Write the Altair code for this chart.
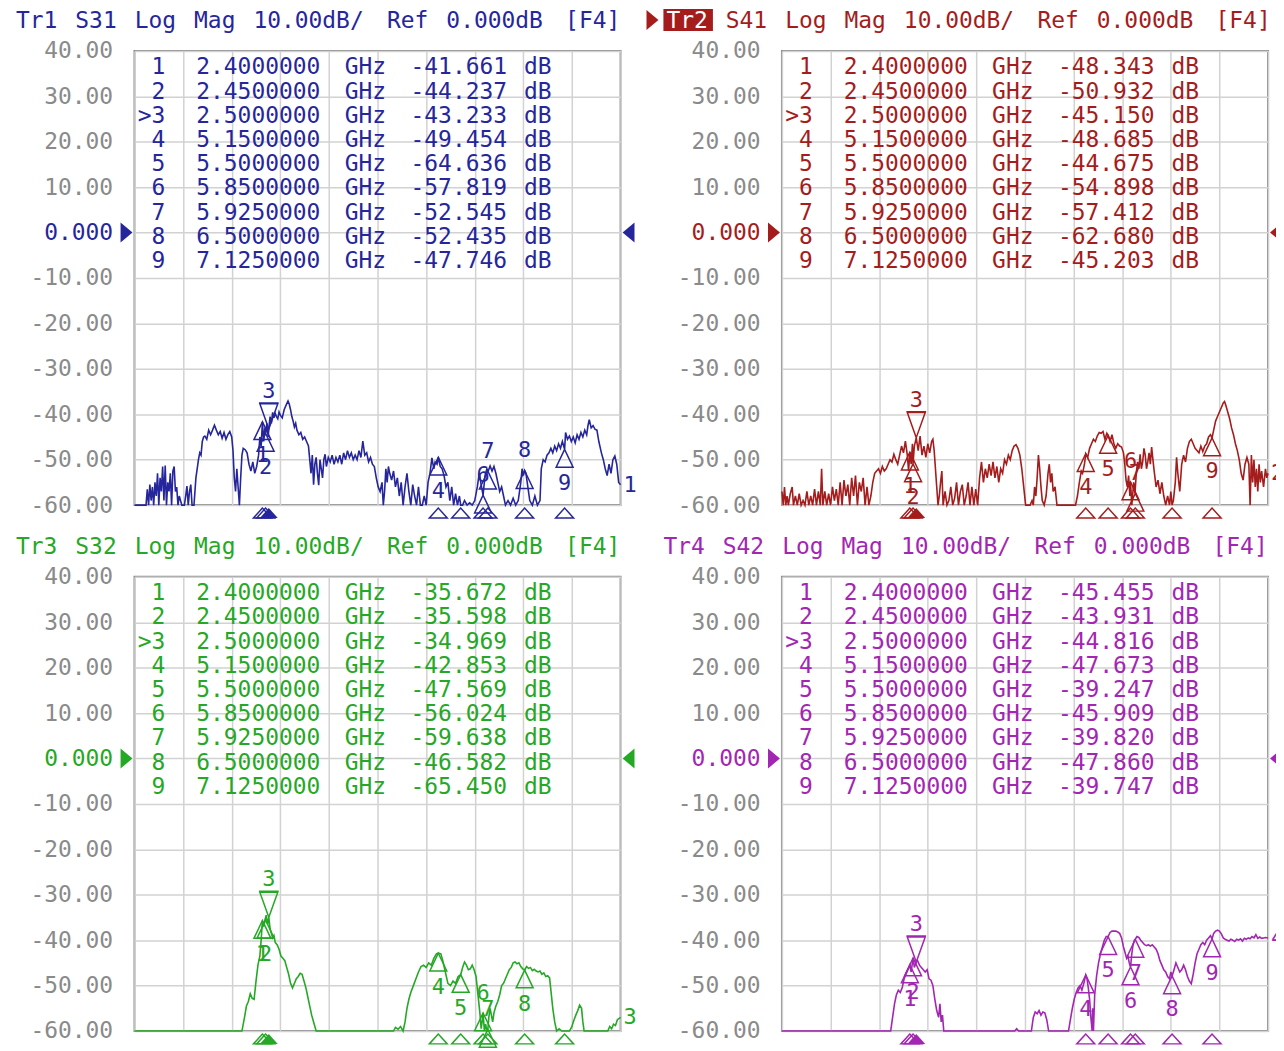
import altair as alt
import pandas as pd

# ---------------- data ----------------
MARKER_NUMS = ["1", "2", "3", "4", "5", "6", "7", "8", "9"]
MARKER_FREQS = [2.4, 2.45, 2.5, 5.15, 5.5, 5.85, 5.925, 6.5, 7.125]
ACTIVE_MARKER = "3"

TITLES = [
    "Tr1 S31 Log Mag 10.00dB/ Ref 0.000dB [F4]",
    "Tr2 S41 Log Mag 10.00dB/ Ref 0.000dB [F4]",
    "Tr3 S32 Log Mag 10.00dB/ Ref 0.000dB [F4]",
    "Tr4 S42 Log Mag 10.00dB/ Ref 0.000dB [F4]",
]
COLORS = ["#26269c", "#a51c1c", "#25a825", "#a326b2"]

MARKERS_S31 = [-41.661, -44.237, -43.233, -49.454, -64.636, -57.819, -52.545, -52.435, -47.746]
MARKERS_S41 = [-48.343, -50.932, -45.150, -48.685, -44.675, -54.898, -57.412, -62.680, -45.203]
MARKERS_S32 = [-35.672, -35.598, -34.969, -42.853, -47.569, -56.024, -59.638, -46.582, -65.450]
MARKERS_S42 = [-45.455, -43.931, -44.816, -47.673, -39.247, -45.909, -39.820, -47.860, -39.747]

TRACE_S31 = [
    (0.40, -60), (0.50, -60), (0.58, -60), (0.60, -56.5), (0.62, -60), (0.64, -55.5), (0.66, -59),
    (0.68, -56), (0.70, -60), (0.72, -55), (0.74, -58), (0.76, -53), (0.78, -60), (0.80, -54),
    (0.82, -57), (0.84, -51.5), (0.86, -59), (0.88, -51.3), (0.90, -60), (0.92, -55), (0.94, -57),
    (0.96, -53), (0.98, -60), (1.00, -52.5), (1.02, -51.5), (1.04, -57), (1.06, -56), (1.08, -60),
    (1.10, -58), (1.14, -60), (1.18, -60), (1.20, -58), (1.22, -55.8), (1.24, -60), (1.26, -57),
    (1.28, -55.5), (1.30, -60), (1.33, -60), (1.36, -54), (1.38, -52), (1.40, -50), (1.42, -48.5),
    (1.44, -49), (1.46, -46), (1.48, -45), (1.50, -44.8), (1.53, -45.5), (1.56, -43.5), (1.59, -44.5),
    (1.62, -43.5), (1.65, -42.4), (1.68, -43.5), (1.71, -44.5), (1.74, -43.8), (1.77, -45.3),
    (1.80, -44), (1.83, -45.5), (1.86, -44.5), (1.89, -43.8), (1.92, -45), (1.94, -48), (1.96, -54),
    (1.98, -57), (2.00, -52), (2.02, -56), (2.04, -60), (2.06, -54), (2.08, -49), (2.10, -47.5),
    (2.13, -47.8), (2.16, -48.5), (2.19, -51), (2.22, -52.5), (2.25, -50.5), (2.28, -53),
    (2.31, -51.5), (2.34, -49), (2.36, -45), (2.38, -47), (2.40, -41.7), (2.42, -46), (2.44, -43),
    (2.45, -44.2), (2.47, -42), (2.49, -45), (2.50, -43.2), (2.52, -40.5), (2.54, -42),
    (2.56, -39.6), (2.58, -40.8), (2.60, -39.8), (2.62, -40.5), (2.64, -41), (2.66, -39.5),
    (2.68, -40.2), (2.71, -40.8), (2.74, -39), (2.77, -38), (2.80, -37.1), (2.82, -37.8),
    (2.84, -39), (2.86, -40.5), (2.88, -41.5), (2.90, -42.8), (2.92, -42), (2.94, -43.5),
    (2.97, -44.5), (3.00, -44), (3.03, -45.5), (3.06, -45), (3.09, -46), (3.12, -47), (3.14, -50),
    (3.16, -53), (3.18, -49), (3.20, -55.5), (3.22, -51), (3.24, -49.5), (3.26, -53), (3.28, -55.6),
    (3.30, -50), (3.32, -52), (3.34, -54), (3.36, -50), (3.38, -48.8), (3.40, -51.5), (3.43, -49.5),
    (3.46, -50.5), (3.49, -49), (3.52, -51), (3.55, -49.5), (3.58, -50.5), (3.61, -49), (3.64, -51),
    (3.67, -48.5), (3.70, -50), (3.73, -48), (3.76, -49.5), (3.79, -48.5), (3.82, -50), (3.85, -49),
    (3.88, -50), (3.91, -48), (3.94, -49.5), (3.97, -45.9), (4.00, -49), (4.03, -48.5),
    (4.06, -50.5), (4.09, -49.5), (4.12, -51), (4.15, -51.5), (4.18, -54), (4.21, -56), (4.24, -57),
    (4.27, -55), (4.29, -60), (4.31, -57), (4.33, -52), (4.35, -55), (4.37, -51.5), (4.39, -53),
    (4.42, -54.5), (4.45, -52.5), (4.48, -56), (4.51, -54), (4.54, -58), (4.57, -55), (4.60, -60),
    (4.63, -56), (4.66, -53), (4.69, -57), (4.72, -60), (4.75, -55.5), (4.78, -58), (4.81, -60),
    (4.84, -56), (4.87, -60), (4.90, -60), (4.93, -58), (4.96, -60), (4.99, -55), (5.02, -53),
    (5.05, -49.6), (5.08, -52), (5.10, -50.5), (5.13, -51), (5.15, -49.5), (5.18, -51.5),
    (5.21, -52), (5.24, -53.5), (5.27, -56), (5.30, -55), (5.33, -59), (5.36, -56), (5.39, -60),
    (5.42, -57.5), (5.45, -60), (5.48, -58), (5.50, -60), (5.53, -60), (5.56, -59), (5.60, -60),
    (5.64, -59.5), (5.68, -60), (5.72, -59), (5.76, -56), (5.79, -53), (5.82, -55.5), (5.85, -57.8),
    (5.88, -53.5), (5.91, -52), (5.93, -52.5), (5.96, -51.4), (5.99, -52.5), (6.02, -51.5),
    (6.05, -53), (6.08, -55), (6.11, -57), (6.14, -56), (6.17, -58), (6.20, -60), (6.24, -59),
    (6.28, -60), (6.32, -58.5), (6.36, -60), (6.40, -59), (6.44, -55), (6.46, -52), (6.48, -53.5),
    (6.50, -52.4), (6.52, -53), (6.55, -56), (6.58, -59), (6.62, -60), (6.66, -58), (6.70, -60),
    (6.74, -59), (6.76, -52), (6.79, -50), (6.82, -50.5), (6.85, -49), (6.88, -48.5), (6.91, -47.5),
    (6.94, -48.5), (6.97, -47), (7.00, -48), (7.03, -46.5), (7.06, -47.5), (7.09, -46),
    (7.125, -47.7), (7.14, -44), (7.17, -45.5), (7.20, -44.8), (7.23, -46), (7.26, -45),
    (7.29, -46.3), (7.32, -44.5), (7.35, -45.5), (7.38, -44), (7.41, -45), (7.44, -43.5),
    (7.47, -44.5), (7.49, -42.5), (7.51, -41.2), (7.54, -43), (7.57, -42.5), (7.60, -43.3),
    (7.63, -43.5), (7.66, -46), (7.70, -48.5), (7.73, -50), (7.76, -52), (7.79, -53.5), (7.82, -51),
    (7.85, -53), (7.88, -50), (7.91, -49.2), (7.94, -51), (7.97, -55), (8.00, -55.5),
]

TRACE_S41 = [
    (0.40, -57), (0.42, -60), (0.44, -56), (0.46, -60), (0.48, -58), (0.50, -60), (0.53, -57.5),
    (0.56, -56), (0.58, -60), (0.61, -58), (0.64, -60), (0.67, -57.5), (0.70, -60), (0.73, -59),
    (0.76, -60), (0.79, -57), (0.82, -60), (0.85, -58), (0.88, -60), (0.91, -56.5), (0.94, -60),
    (0.97, -57), (1.00, -60), (1.02, -52), (1.04, -60), (1.07, -57), (1.10, -60), (1.13, -57.5),
    (1.16, -60), (1.19, -56), (1.22, -59), (1.25, -56.5), (1.28, -60), (1.31, -55), (1.34, -60),
    (1.37, -54.5), (1.40, -58), (1.43, -55.5), (1.46, -60), (1.49, -54), (1.52, -58), (1.55, -53.5),
    (1.58, -60), (1.61, -55), (1.64, -57), (1.67, -54), (1.70, -60), (1.73, -56), (1.76, -60),
    (1.79, -58), (1.82, -55), (1.85, -53), (1.88, -52.5), (1.91, -52), (1.94, -53), (1.97, -51.5),
    (2.00, -52.5), (2.03, -52), (2.06, -51), (2.09, -50), (2.12, -50.5), (2.15, -48.8), (2.18, -50),
    (2.21, -51), (2.24, -49), (2.27, -47), (2.30, -48.5), (2.33, -45.9), (2.36, -49), (2.38, -52.5),
    (2.40, -48.3), (2.42, -51), (2.44, -46.5), (2.45, -50.9), (2.47, -47), (2.50, -45.2),
    (2.53, -48), (2.56, -44.8), (2.59, -49), (2.62, -47), (2.65, -49.5), (2.68, -46.5),
    (2.71, -48.5), (2.74, -46), (2.76, -45.5), (2.78, -48), (2.80, -52), (2.82, -56), (2.84, -60),
    (2.86, -58), (2.88, -55), (2.90, -52.5), (2.92, -60), (2.95, -57), (2.98, -60), (3.01, -59),
    (3.04, -56), (3.07, -60), (3.10, -58.5), (3.13, -55), (3.16, -60), (3.19, -57), (3.22, -55.5),
    (3.25, -60), (3.28, -58), (3.31, -55), (3.34, -60), (3.37, -56), (3.40, -60), (3.43, -56.5),
    (3.46, -60), (3.49, -54), (3.52, -50.5), (3.55, -55), (3.58, -52), (3.61, -54), (3.64, -51),
    (3.67, -53.5), (3.70, -50.5), (3.73, -54), (3.76, -51.5), (3.79, -55), (3.82, -52), (3.85, -53),
    (3.88, -50), (3.91, -51), (3.94, -49), (3.97, -50), (4.00, -48), (4.03, -47), (4.06, -46.7),
    (4.09, -47.5), (4.12, -49), (4.15, -52), (4.18, -56), (4.21, -60), (4.24, -60), (4.28, -60),
    (4.31, -59), (4.33, -60), (4.35, -56), (4.37, -58), (4.39, -54), (4.41, -49), (4.43, -52),
    (4.45, -56), (4.47, -59), (4.50, -60), (4.53, -58), (4.56, -53), (4.58, -51), (4.60, -55),
    (4.62, -53), (4.64, -57), (4.67, -56), (4.70, -60), (4.80, -60), (4.90, -60), (4.99, -60),
    (5.02, -58), (5.05, -55), (5.08, -52.5), (5.10, -53), (5.13, -51), (5.15, -48.7), (5.18, -49.5),
    (5.21, -47.5), (5.24, -46.5), (5.27, -45.5), (5.30, -46), (5.33, -44.8), (5.36, -44),
    (5.39, -44.2), (5.42, -43.8), (5.45, -45.5), (5.48, -44.2), (5.50, -44.7), (5.53, -46),
    (5.56, -44.5), (5.59, -46.5), (5.62, -47.5), (5.65, -46.5), (5.68, -47), (5.71, -47.2),
    (5.74, -48.5), (5.76, -51), (5.78, -54.5), (5.80, -56), (5.82, -53.5), (5.84, -58),
    (5.85, -54.9), (5.87, -60), (5.90, -55), (5.92, -57.4), (5.94, -53), (5.96, -50.5), (5.98, -52),
    (6.00, -48.8), (6.02, -52), (6.04, -50.5), (6.06, -47.5), (6.08, -49), (6.10, -52),
    (6.12, -50.5), (6.14, -48.5), (6.16, -51), (6.18, -47.2), (6.20, -50), (6.22, -52.5),
    (6.25, -56), (6.28, -54.5), (6.31, -57.5), (6.34, -55), (6.37, -58), (6.40, -60), (6.43, -58),
    (6.46, -60), (6.48, -57), (6.50, -60), (6.52, -59), (6.55, -55), (6.57, -49.5), (6.59, -53),
    (6.62, -57), (6.65, -51), (6.68, -49), (6.71, -50.5), (6.74, -47.5), (6.77, -46), (6.80, -45.5),
    (6.83, -46.5), (6.86, -47.5), (6.89, -48), (6.92, -48.5), (6.95, -47), (6.98, -48.2), (7.01, -47),
    (7.04, -46.5), (7.07, -45), (7.10, -44.5), (7.125, -45.2), (7.15, -43.5), (7.18, -41.5),
    (7.21, -40.5), (7.24, -39.5), (7.27, -38.5), (7.30, -37.5), (7.32, -37.2), (7.34, -38),
    (7.37, -39.5), (7.40, -41), (7.43, -43), (7.46, -44.5), (7.49, -46.5), (7.52, -48), (7.55, -50),
    (7.58, -53), (7.61, -54.5), (7.64, -51), (7.67, -49.5), (7.70, -51), (7.72, -60), (7.74, -49),
    (7.76, -55), (7.78, -50), (7.80, -56), (7.82, -52), (7.84, -57), (7.86, -51), (7.88, -55),
    (7.90, -52.5), (7.93, -56), (7.96, -52), (7.98, -54), (8.00, -53),
]

TRACE_S32 = [
    (0.40, -60), (2.08, -60), (2.12, -57), (2.15, -54.5), (2.18, -53.5), (2.21, -51.8),
    (2.24, -52.8), (2.27, -53), (2.30, -49), (2.33, -45.5), (2.36, -43.5), (2.38, -40),
    (2.40, -35.7), (2.42, -37), (2.44, -35.5), (2.46, -34.5), (2.48, -36.5), (2.50, -35),
    (2.52, -37.5), (2.54, -38.5), (2.56, -39.5), (2.58, -39), (2.60, -40.5), (2.63, -41),
    (2.66, -42), (2.69, -43.5), (2.72, -44), (2.75, -44.5), (2.78, -46), (2.81, -47.5),
    (2.84, -49.5), (2.87, -50.5), (2.90, -49.5), (2.93, -48.5), (2.96, -48), (2.99, -47.3),
    (3.02, -47.5), (3.05, -49), (3.08, -50.5), (3.11, -52.5), (3.14, -54.5), (3.17, -56.5),
    (3.20, -58), (3.24, -60), (4.45, -60), (4.48, -59.2), (4.52, -59.6), (4.56, -59), (4.60, -60),
    (4.63, -58), (4.66, -55), (4.69, -53), (4.72, -51.5), (4.76, -50), (4.80, -48.5), (4.84, -47),
    (4.88, -45.8), (4.92, -45.5), (4.96, -46), (5.00, -45), (5.04, -45.5), (5.08, -44), (5.12, -43),
    (5.15, -42.85), (5.19, -43), (5.22, -44.5), (5.26, -47), (5.30, -49.5), (5.34, -50),
    (5.38, -49), (5.42, -49.5), (5.46, -48), (5.50, -47.6), (5.53, -46), (5.56, -44.8),
    (5.59, -45.5), (5.62, -46.5), (5.65, -46.3), (5.68, -45.5), (5.71, -46.5), (5.74, -48),
    (5.77, -52), (5.80, -56), (5.82, -59.5), (5.84, -57.5), (5.85, -56), (5.87, -60),
    (5.89, -58.5), (5.91, -60), (5.925, -59.6), (5.94, -57), (5.96, -55), (5.98, -56.5),
    (6.00, -58), (6.02, -56), (6.05, -54.5), (6.08, -53.5), (6.11, -52), (6.14, -50),
    (6.17, -49.5), (6.20, -48.5), (6.23, -47.5), (6.26, -46.5), (6.29, -46), (6.32, -45),
    (6.35, -44.8), (6.38, -45.2), (6.41, -45), (6.44, -45.8), (6.47, -46.3), (6.50, -46.6),
    (6.53, -45.8), (6.56, -46.2), (6.59, -46), (6.62, -46.7), (6.65, -46.4), (6.68, -46.8),
    (6.71, -47), (6.74, -46.8), (6.77, -47.5), (6.80, -47.2), (6.83, -48), (6.86, -47.8),
    (6.89, -48.3), (6.91, -51), (6.94, -55), (6.97, -58), (7.00, -60), (7.04, -59.5), (7.08, -60),
    (7.20, -60), (7.24, -59), (7.26, -58), (7.30, -56.5), (7.33, -55.5), (7.36, -54.3),
    (7.39, -55), (7.41, -58), (7.43, -60), (7.80, -60), (7.83, -59), (7.86, -59.5), (7.89, -58.5),
    (7.92, -58.8), (7.95, -57.5), (8.00, -57),
]

TRACE_S42 = [
    (0.40, -60), (2.10, -60), (2.13, -57), (2.16, -54), (2.19, -52), (2.22, -51), (2.25, -51.5),
    (2.28, -50.5), (2.31, -48.5), (2.34, -47.5), (2.37, -46.5), (2.40, -45.5), (2.42, -47),
    (2.45, -43.9), (2.47, -46), (2.50, -44.8), (2.52, -44.5), (2.55, -45.5), (2.58, -46),
    (2.61, -46.5), (2.64, -47), (2.67, -46.5), (2.70, -48.5), (2.73, -48.8), (2.76, -50),
    (2.79, -53), (2.82, -55.5), (2.85, -57), (2.87, -54), (2.89, -58), (2.91, -56.5), (2.93, -60),
    (4.04, -60), (4.07, -59.5), (4.10, -60), (4.30, -60), (4.33, -57), (4.36, -55.8), (4.39, -56.2),
    (4.42, -55.5), (4.45, -56.5), (4.48, -55.8), (4.51, -56), (4.54, -57.5), (4.57, -60),
    (4.88, -60), (4.91, -57.5), (4.94, -55), (4.97, -53), (5.00, -51.5), (5.03, -50.5), (5.06, -50),
    (5.09, -51), (5.12, -49.5), (5.15, -47.7), (5.17, -48.5), (5.19, -50.5), (5.21, -53),
    (5.23, -57), (5.25, -60), (5.26, -55), (5.27, -60), (5.29, -52), (5.32, -47.8), (5.35, -45),
    (5.38, -43), (5.41, -41.5), (5.44, -40), (5.47, -39.2), (5.50, -39.2), (5.53, -38.3),
    (5.56, -38), (5.59, -38), (5.62, -38), (5.65, -38.2), (5.68, -38.5), (5.71, -39.5),
    (5.74, -41.5), (5.77, -43), (5.79, -44), (5.81, -43.5), (5.83, -45), (5.85, -45.9), (5.87, -43),
    (5.89, -41), (5.91, -40), (5.925, -39.8), (5.95, -39.2), (5.98, -39.4), (6.01, -40),
    (6.04, -40.5), (6.07, -41), (6.10, -41.2), (6.13, -41), (6.16, -41.3), (6.19, -41),
    (6.22, -41.5), (6.25, -42), (6.28, -43), (6.31, -44.5), (6.34, -45.5), (6.37, -46.5),
    (6.40, -47), (6.43, -48), (6.46, -48.5), (6.48, -47), (6.50, -47.9), (6.53, -46.5), (6.56, -45),
    (6.59, -46), (6.62, -47), (6.65, -46.5), (6.68, -45.5), (6.71, -46.5), (6.74, -48), (6.77, -49),
    (6.80, -49.6), (6.83, -47.5), (6.86, -45), (6.89, -43), (6.92, -42), (6.95, -41), (6.98, -40.5),
    (7.01, -41), (7.04, -40), (7.07, -39.5), (7.10, -39), (7.125, -39.7), (7.15, -38.5), (7.18, -38),
    (7.21, -37.8), (7.24, -38), (7.27, -38.6), (7.30, -39.5), (7.33, -39.8), (7.36, -40),
    (7.39, -40.2), (7.42, -39.8), (7.45, -40), (7.48, -40.3), (7.51, -39.8), (7.54, -40),
    (7.57, -39.7), (7.60, -40.2), (7.63, -39.6), (7.66, -39.8), (7.69, -39.5), (7.72, -39.7),
    (7.75, -39.2), (7.78, -39.5), (7.81, -38.8), (7.84, -39.6), (7.87, -39.3), (7.90, -39.6),
    (7.93, -39.5), (7.96, -39.4), (8.00, -39.5),
]

TRACES = [TRACE_S31, TRACE_S41, TRACE_S32, TRACE_S42]
MARKER_VALUES = [MARKERS_S31, MARKERS_S41, MARKERS_S32, MARKERS_S42]
TRACE_NUMBERS = ["1", "2", "3", "4"]

F_START, F_STOP = 0.4, 8.0
Y_TICKS = [40, 30, 20, 10, 0, -10, -20, -30, -40, -50, -60]

# ---------------- styling ----------------
FONT = "DejaVu Sans Mono"
FS = 23
PITCH = 14.9
W, H = 488, 456
GRID_COLOR = "#d2d2d2"
LABEL_GRAY = "#8a8a8a"
X_GRID = [F_START + (F_STOP - F_START) * k / 10 for k in range(11)]

TRI_UP = "M0,0 L-0.5,1.05 L0.5,1.05 Z"
TRI_ACTIVE = "M0,0 L-0.5,-1.4 L0.5,-1.4 Z M-0.55,-1.45 L0.55,-1.45"
TRI_BOTTOM = "M0,0 L-0.5,0.55 L0.5,0.55 Z"
TRI_RIGHT = "M-0.6,-1 L0.6,0 L-0.6,1 Z"
TRI_LEFT = "M0.6,-1 L-0.6,0 L0.6,1 Z"


def panel(i):
    col = COLORS[i]
    xs = alt.Scale(domain=[F_START, F_STOP], nice=False, zero=False)
    ys = alt.Scale(domain=[-60, 40], nice=False, zero=False)

    xax = alt.Axis(values=X_GRID, labels=False, ticks=False, domain=False, title=None,
                   grid=True, gridColor=GRID_COLOR, gridWidth=1.5)
    yax = alt.Axis(values=Y_TICKS, ticks=False, tickSize=0, domain=False, title=None,
                   grid=True, gridColor=GRID_COLOR, gridWidth=1.5, labelPadding=22,
                   labelFont=FONT, labelFontSize=FS, labelOverlap=False,
                   labelExpr="datum.value === 0 ? '0.000' : (datum.value < 0 ? '-' : '') + format(abs(datum.value), '.2f')",
                   labelColor={"condition": {"test": "datum.value === 0", "value": col},
                               "value": LABEL_GRAY})

    tr = pd.DataFrame(TRACES[i], columns=["f", "db"])
    trace = alt.Chart(tr).mark_line(color=col, strokeWidth=1.6).encode(
        x=alt.X("f:Q", scale=xs, axis=xax),
        y=alt.Y("db:Q", scale=ys, axis=yax),
    )

    mk = pd.DataFrame({"n": MARKER_NUMS, "f": MARKER_FREQS, "v": MARKER_VALUES[i]})
    mk_base = alt.Chart(mk).transform_calculate(db="max(datum.v, -60)")
    X = alt.X("f:Q", scale=xs)
    Y = alt.Y("db:Q", scale=ys)
    act = f"datum.n === '{ACTIVE_MARKER}'"

    on_trace = mk_base.transform_filter(f"datum.v >= -60 && !({act})").mark_point(
        shape=TRI_UP, size=1156, filled=False, color=col, strokeWidth=1.5, opacity=1
    ).encode(x=X, y=Y)
    # label sits under the triangle; too near the floor it goes above the point instead
    on_trace_lbl = mk_base.transform_filter(f"datum.v >= -60 && !({act})").transform_calculate(
        ly="datum.db - 7.4 < -58.6 ? datum.db + 4.5 : datum.db - 7.4"
    ).mark_text(
        font=FONT, fontSize=22, color=col, baseline="middle"
    ).encode(x=X, y=alt.Y("ly:Q", scale=ys), text="n:N")
    active_sym = mk_base.transform_filter(act).mark_point(
        shape=TRI_ACTIVE, size=1296, filled=False, color=col, strokeWidth=1.5, opacity=1
    ).encode(x=X, y=Y)
    active_lbl = mk_base.transform_filter(act).mark_text(
        font=FONT, fontSize=22, color=col, dy=-38, baseline="middle"
    ).encode(x=X, y=Y, text="n:N")

    bottom_open = mk_base.transform_filter(f"!({act})").mark_point(
        shape=TRI_BOTTOM, size=1296, filled=False, color=col, strokeWidth=1.5, opacity=1
    ).encode(x=X, y=alt.value(H + 3))
    bottom_act = mk_base.transform_filter(act).mark_point(
        shape=TRI_BOTTOM, size=1296, filled=True, color=col, opacity=1
    ).encode(x=X, y=alt.value(H + 3))

    # trace number at end of trace
    end = pd.DataFrame({"f": [TRACES[i][-1][0]], "db": [TRACES[i][-1][1]], "t": [TRACE_NUMBERS[i]]})
    end_lbl = alt.Chart(end).mark_text(
        font=FONT, fontSize=22, color=col, align="left", baseline="middle", dx=3
    ).encode(x=X, y=Y, text="t:N")

    # reference-level triangles at 0 dB
    one = pd.DataFrame({"k": [0]})
    ref_l = alt.Chart(one).mark_point(shape=TRI_RIGHT, size=400, filled=True, color=col, opacity=1).encode(
        x=alt.value(-8), y=alt.datum(0, scale=ys))
    ref_r = alt.Chart(one).mark_point(shape=TRI_LEFT, size=400, filled=True, color=col, opacity=1).encode(
        x=alt.value(W + 8), y=alt.datum(0, scale=ys))

    # marker table
    tbl = pd.DataFrame({
        "i": list(range(len(MARKER_NUMS))),
        "num": [(">" + n) if n == ACTIVE_MARKER else n for n in MARKER_NUMS],
        "fs": [f"{f:.7f}" for f in MARKER_FREQS],
        "vs": [f"{v:.3f}" for v in MARKER_VALUES[i]],
    })
    tb = alt.Chart(tbl).transform_calculate(yp="16.5 + 24.3 * datum.i")
    TY = alt.Y("yp:Q", scale=None)
    tkw = dict(font=FONT, fontSize=FS, color=col, baseline="middle")
    t_num = tb.mark_text(align="right", **tkw).encode(x=alt.value(31), y=TY, text="num:N")
    t_f = tb.mark_text(align="left", **tkw).encode(x=alt.value(62), y=TY, text="fs:N")
    t_ghz = tb.mark_text(align="left", text="GHz", **tkw).encode(x=alt.value(211), y=TY)
    t_v = tb.mark_text(align="right", **tkw).encode(x=alt.value(374), y=TY, text="vs:N")
    t_db = tb.mark_text(align="left", text="dB", **tkw).encode(x=alt.value(391), y=TY)

    # title line, laid on a fixed monospace pitch
    words, c = [], 0
    for k, w in enumerate(TITLES[i].split(" ")):
        words.append({"w": w, "c": c, "k": k})
        c += len(w) + 1
    x0 = -116 if i == 1 else -119
    tw = pd.DataFrame(words)
    title_color = alt.condition("datum.k === 0", alt.value("white"), alt.value(col)) if i == 1 else alt.value(col)
    title = alt.Chart(tw).transform_calculate(xp=f"{x0} + {PITCH} * datum.c").mark_text(
        font=FONT, fontSize=FS, align="left", baseline="top"
    ).encode(x=alt.X("xp:Q", scale=None), y=alt.value(-41), text="w:N", color=title_color)

    layers = [trace, bottom_open, bottom_act, on_trace, on_trace_lbl, active_sym, active_lbl,
              end_lbl, ref_l, ref_r, t_num, t_f, t_ghz, t_v, t_db]
    if i == 1:
        box = alt.Chart(one).mark_rect(color=col).encode(
            x=alt.value(x0 - 3), x2=alt.value(x0 + 3 * PITCH + 2),
            y=alt.value(-42), y2=alt.value(-20))
        arrow = alt.Chart(one).mark_point(shape=TRI_RIGHT, size=400, filled=True, color=col, opacity=1).encode(
            x=alt.value(x0 - 14), y=alt.value(-31))
        layers += [box, arrow]
    layers.append(title)
    return alt.layer(*layers).properties(width=W, height=H)


chart = alt.concat(
    panel(0), panel(1), panel(2), panel(3),
    columns=2, spacing={"row": 72, "column": 162}, bounds="flush",
).properties(
    padding={"left": 7, "top": -2, "right": -10, "bottom": 0},
    background="white",
).configure_view(
    stroke="#8c8c8c", strokeWidth=2
)

chart.save("out.html", embed_options={"renderer": "svg", "actions": False})
